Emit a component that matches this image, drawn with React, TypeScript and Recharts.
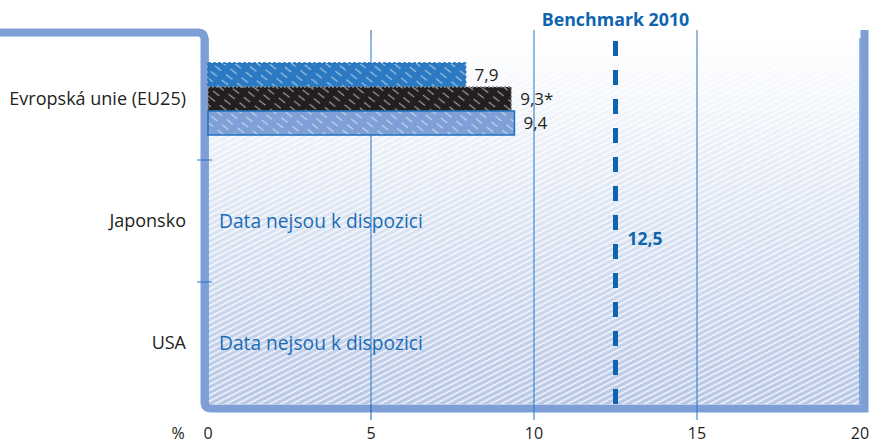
import React from 'react';
import {
  BarChart,
  Bar,
  XAxis,
  YAxis,
  CartesianGrid,
  ReferenceLine,
  LabelList,
} from 'recharts';

// data
const categories = ['Evropská unie (EU25)', 'Japonsko', 'USA'];
const seriesA = [7.9, null, null];
const seriesB = [9.3, null, null];
const seriesC = [9.4, null, null];
const seriesBNote = ['*', '', ''];
const missingNotes = ['', 'Data nejsou k dispozici', 'Data nejsou k dispozici'];
const xTicks = [0, 5, 10, 15, 20];
const benchmarkValue = 12.5;
const benchmarkTitle = 'Benchmark 2010';
const unitLabel = '%';

const data = categories.map((name, i) => ({
  name,
  a: seriesA[i],
  b: seriesB[i],
  c: seriesC[i],
  bNote: seriesBNote[i],
  missing: missingNotes[i],
}));

// layout
const WIDTH = 869;
const HEIGHT = 443;
const MARGIN = { top: 38, right: 9, bottom: 0, left: 0 };
const YAXIS_W = 208;
const XAXIS_H = 39;
const PLOT_LEFT = MARGIN.left + YAXIS_W;
const PLOT_TOP = MARGIN.top;
const PLOT_RIGHT = WIDTH - MARGIN.right;
const PLOT_BOTTOM = HEIGHT - MARGIN.bottom - XAXIS_H;

const FONT = "'Open Sans', 'Noto Sans', sans-serif";
const DARK = '#231f20';
const BLUE = '#1b6cb6';
const FRAME = '#7d9fd5';
const GRID = '#2676c4';

const fmt = (v: number) => String(v).replace('.', ',');

const hatchedBar = (fill: string, stroke: string, dash?: string) => (props: any) => {
  const { x, y, width, height } = props;
  if (!width || width <= 0) return null;
  return (
    <g>
      <rect x={x} y={y} width={width} height={height} fill={fill} />
      <rect x={x} y={y} width={width} height={height} fill="url(#barHatch)" />
      <rect
        x={x}
        y={y}
        width={width}
        height={height}
        fill="none"
        stroke={stroke}
        strokeWidth={1.5}
        strokeDasharray={dash}
      />
    </g>
  );
};

const valueLabel = (suffixKey?: string) => (props: any) => {
  const { x, y, width, height, value, index } = props;
  if (value == null) return null;
  const suffix = suffixKey ? (data[index] as any)[suffixKey] : '';
  return (
    <text
      x={x + width + 9}
      y={y + height / 2 + 6}
      fill={DARK}
      fontSize={17}
      fontFamily={FONT}
    >
      {fmt(value) + suffix}
    </text>
  );
};

function XTick(props: any) {
  const { x, payload } = props;
  const v = payload.value;
  const inner = v > xTicks[0] && v < xTicks[xTicks.length - 1];
  const lineColor = v === xTicks[1] ? '#1b5ca6' : GRID;
  return (
    <g>
      {inner && (
        <>
          <line x1={x} x2={x} y1={PLOT_TOP - 8} y2={PLOT_TOP} stroke={lineColor} strokeWidth={1} />
          <line x1={x} x2={x} y1={PLOT_BOTTOM} y2={PLOT_BOTTOM + 16} stroke={lineColor} strokeWidth={1} />
        </>
      )}
      <text x={x} y={PLOT_BOTTOM + 35} textAnchor="middle" fill={DARK} fontSize={16} fontFamily={FONT}>
        {v}
      </text>
      {v === xTicks[0] && (
        <text x={x - 30} y={PLOT_BOTTOM + 35} textAnchor="middle" fill={DARK} fontSize={16} fontFamily={FONT}>
          {unitLabel}
        </text>
      )}
    </g>
  );
}

function YTick(props: any) {
  const { y, payload } = props;
  const row = data.find((d) => d.name === payload.value);
  return (
    <g>
      <text
        x={PLOT_LEFT - 22}
        y={y + 6}
        textAnchor="end"
        fill={DARK}
        fontSize={18}
        fontFamily={FONT}
      >
        {payload.value}
      </text>
      {row && row.missing && (
        <text x={PLOT_LEFT + 11} y={y + 7} fill={BLUE} fontSize={19.2} fontFamily={FONT}>
          {row.missing}
        </text>
      )}
    </g>
  );
}

function BenchmarkLabel(props: any) {
  const { viewBox } = props;
  const x = viewBox.x;
  const mid = viewBox.y + viewBox.height * 0.55;
  return (
    <g fontFamily={FONT} fontWeight={700} fill="#0f64b0">
      <text x={x} y={viewBox.y - 12} textAnchor="middle" fontSize={17.8}>
        {benchmarkTitle}
      </text>
      <text x={x + 12} y={mid + 6} fontSize={17.5}>
        {fmt(benchmarkValue)}
      </text>
    </g>
  );
}

function Frame() {
  const r = 7;
  const lx = PLOT_LEFT - 3.5;
  const by = PLOT_BOTTOM + 4.5;
  const rx = PLOT_RIGHT + 4.5;
  const ty = PLOT_TOP - 5.5;
  const n = categories.length;
  const bandH = (PLOT_BOTTOM - PLOT_TOP) / n;
  return (
    <g>
      <path
        d={`M 0 ${ty} H ${lx - r} Q ${lx} ${ty} ${lx} ${ty + r} V ${by - r} Q ${lx} ${by} ${lx + r} ${by} H ${rx} V ${PLOT_TOP - 8}`}
        fill="none"
        stroke={FRAME}
        strokeWidth={8}
      />
      {Array.from({ length: n - 1 }, (_, i) => {
        const yy = PLOT_TOP + bandH * (i + 1);
        return (
          <line
            key={i}
            x1={PLOT_LEFT - 11}
            x2={PLOT_LEFT + 4}
            y1={yy}
            y2={yy}
            stroke={GRID}
            strokeWidth={1}
          />
        );
      })}
    </g>
  );
}

export default function App() {
  const plotW = PLOT_RIGHT - PLOT_LEFT;
  const plotH = PLOT_BOTTOM - PLOT_TOP;
  return (
    <div style={{ position: 'absolute', left: 0, top: 0, fontFamily: FONT }}>
      <BarChart
        width={WIDTH}
        height={HEIGHT}
        data={data}
        layout="vertical"
        margin={MARGIN}
        barGap={0}
        barSize={24}
      >
        <defs>
          <linearGradient id="bgGrad" gradientUnits="userSpaceOnUse" x1={0} y1={PLOT_TOP} x2={0} y2={PLOT_BOTTOM}>
            <stop offset="0%" stopColor="#ffffff" />
            <stop offset="30%" stopColor="#eaeff8" />
            <stop offset="100%" stopColor="#b6c6e5" />
          </linearGradient>
          <pattern
            id="bgHatch"
            patternUnits="userSpaceOnUse"
            width={14}
            height={5}
            patternTransform="rotate(-27)"
          >
            <line x1={0} x2={14} y1={2.5} y2={2.5} stroke="#ffffff" strokeWidth={1.5} strokeOpacity={0.9} />
          </pattern>
          <pattern id="bgAll" patternUnits="userSpaceOnUse" x={0} y={0} width={WIDTH} height={HEIGHT}>
            <rect x={PLOT_LEFT} y={PLOT_TOP} width={plotW} height={plotH} fill="url(#bgGrad)" />
            <rect x={PLOT_LEFT} y={PLOT_TOP} width={plotW} height={plotH} fill="url(#bgHatch)" />
          </pattern>
          <pattern
            id="barHatch"
            patternUnits="userSpaceOnUse"
            width={14}
            height={7}
            patternTransform="rotate(38)"
          >
            <line x1={0} x2={8} y1={3.5} y2={3.5} stroke="#ffffff" strokeWidth={1.2} strokeOpacity={0.55} />
          </pattern>
        </defs>
        <CartesianGrid horizontal={false} stroke={GRID} strokeWidth={1} fill="url(#bgAll)" fillOpacity={1} />
        <XAxis
          type="number"
          domain={[xTicks[0], xTicks[xTicks.length - 1]]}
          ticks={xTicks}
          height={XAXIS_H}
          axisLine={false}
          tickLine={false}
          tickSize={0}
          tickMargin={0}
          tick={XTick}
          interval={0}
        />
        <YAxis
          type="category"
          dataKey="name"
          width={YAXIS_W}
          axisLine={false}
          tickLine={false}
          tickSize={0}
          tickMargin={0}
          tick={YTick}
          interval={0}
        />
        <Bar dataKey="a" isAnimationActive={false} shape={hatchedBar('#2a79c2', '#1f6fbd', '3 2')}>
          <LabelList dataKey="a" content={valueLabel()} />
        </Bar>
        <Bar dataKey="b" isAnimationActive={false} shape={hatchedBar('#231f20', '#8a8a8a', '2 2')}>
          <LabelList dataKey="b" content={valueLabel('bNote')} />
        </Bar>
        <Bar dataKey="c" isAnimationActive={false} shape={hatchedBar('#7ea0d6', '#1f6fc0')}>
          <LabelList dataKey="c" content={valueLabel()} />
        </Bar>
        <ReferenceLine
          x={benchmarkValue}
          stroke="#0f64b0"
          strokeWidth={5}
          strokeDasharray="15 14"
          label={BenchmarkLabel}
        />
        <Frame />
      </BarChart>
    </div>
  );
}
